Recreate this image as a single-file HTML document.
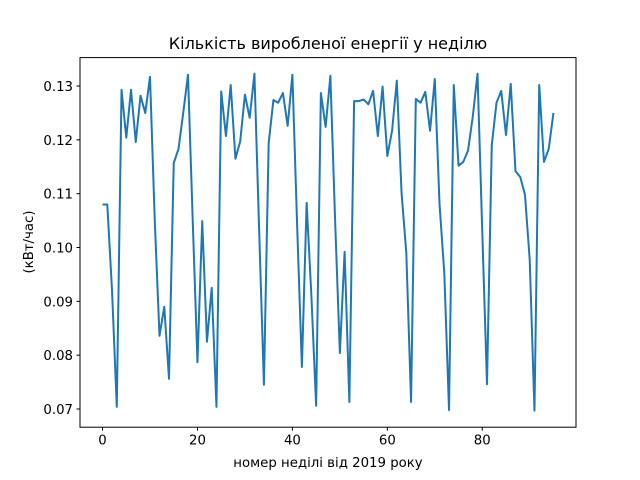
<!DOCTYPE html>
<html><head><meta charset="utf-8"><style>
body{margin:0;background:#fff;}
svg{display:block;font-family:"DejaVu Sans","Liberation Sans",sans-serif;}
</style></head><body>
<svg id="chart" width="640" height="480">
<rect width="640" height="480" fill="#fff"/>
<text x="328" y="49" text-anchor="middle" font-size="16">Кількість виробленої енергії у неділю</text>
<text x="328" y="467" text-anchor="middle" font-size="13.3">номер неділі від 2019 року</text>
<text transform="translate(33,242) rotate(-90)" text-anchor="middle" font-size="13.3">(кВт/час)</text>
<g id="ticks"></g>
<polyline id="line" fill="none" stroke="#1f77b4" stroke-width="2" stroke-linejoin="round"/>
<rect x="80" y="57.6" width="496" height="369.6" fill="none" stroke="#000" stroke-width="1"/>
</svg>
<script>
const values = [0.108,0.108,0.092,0.0704,0.1293,0.1204,0.1293,0.1196,0.1282,0.125,
0.1317,0.105,0.0836,0.089,0.0756,0.1157,0.1183,0.125,0.1321,0.105,
0.0787,0.1049,0.0825,0.0925,0.0704,0.129,0.1207,0.1302,0.1165,0.1197,
0.1284,0.1241,0.1323,0.103,0.0745,0.1194,0.1274,0.1269,0.1287,0.1226,
0.1321,0.104,0.0778,0.1083,0.091,0.0706,0.1287,0.1224,0.1319,0.105,
0.0804,0.0992,0.0713,0.1272,0.1272,0.1275,0.1266,0.1291,0.1207,0.1299,
0.117,0.1217,0.131,0.1101,0.099,0.0713,0.1276,0.1269,0.1289,0.1217,
0.1313,0.108,0.0953,0.0698,0.1302,0.1152,0.1159,0.118,0.1243,0.1323,
0.103,0.0746,0.119,0.1269,0.1291,0.1209,0.1304,0.1142,0.1131,0.1098,
0.0977,0.0697,0.1302,0.1159,0.1183,0.125];
const xTicks = [0,20,40,60,80];
const yTicks = [0.07,0.08,0.09,0.10,0.11,0.12,0.13];
const yTickLabels = ["0.07","0.08","0.09","0.10","0.11","0.12","0.13"];
const L=80,R=576,T=57.6,B=427.2;
const xMin=-4.75,xMax=99.75,yMin=0.06662,yMax=0.13528;
const sx=v=>L+(v-xMin)/(xMax-xMin)*(R-L);
const sy=v=>B-(v-yMin)/(yMax-yMin)*(B-T);
const NS="http://www.w3.org/2000/svg";
const line=document.getElementById('line');
line.setAttribute('points',values.map((v,i)=>sx(i).toFixed(2)+','+sy(v).toFixed(2)).join(' '));
const g=document.getElementById('ticks');
xTicks.forEach(t=>{
  const l=document.createElementNS(NS,'line');
  l.setAttribute('x1',sx(t));l.setAttribute('x2',sx(t));l.setAttribute('y1',B);l.setAttribute('y2',B+3.5);l.setAttribute('stroke','#000');
  
  
  g.appendChild(l);
  const tx=document.createElementNS(NS,'text');
  tx.setAttribute('x',sx(t));tx.setAttribute('y',B+17.5);tx.setAttribute('text-anchor','middle');tx.setAttribute('font-size','13.3');
  tx.textContent=t;
  
  
  g.appendChild(tx);
});
yTicks.forEach((t,i)=>{
  const l=document.createElementNS(NS,'line');
  l.setAttribute('x1',L-3.5);l.setAttribute('x2',L);l.setAttribute('y1',sy(t));l.setAttribute('y2',sy(t));l.setAttribute('stroke','#000');
  
  
  g.appendChild(l);
  const tx=document.createElementNS(NS,'text');
  tx.setAttribute('x',L-7);tx.setAttribute('y',sy(t)+5);tx.setAttribute('text-anchor','end');tx.setAttribute('font-size','13.3');
  tx.textContent=yTickLabels[i];
  
  
  g.appendChild(tx);
});
</script>
</body></html>
